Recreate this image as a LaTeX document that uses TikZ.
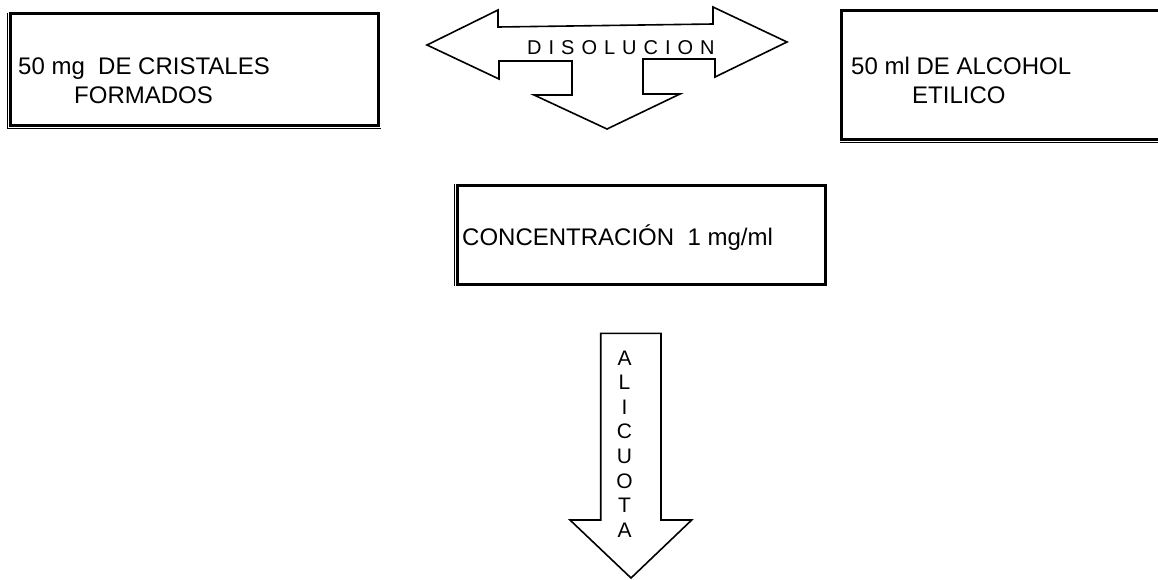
\documentclass[tikz,border=0pt]{standalone}
\usepackage{fontspec}
\setmainfont{Liberation Sans}
\newcommand\disfont{\fontsize{20}{24}\selectfont\spaceskip 7pt\relax}
\begin{document}
\begin{tikzpicture}[x=1pt,y=-1pt,
  thickln/.style={line width=3pt},
  thinln/.style={line width=1.1pt},
  arrowshape/.style={line width=1.6pt, line join=miter, fill=white},
  lbl/.style={font=\fontsize{24}{29}\selectfont, inner sep=0pt, anchor=base west},
  vlet/.style={font=\fontsize{21}{25}\selectfont, inner sep=0pt, anchor=base}]
\useasboundingbox (0,0) rectangle (1158,579);
\clip (0,0) rectangle (1158,579);

% left box
\draw[thickln] (10.3,13.3) rectangle (378.7,125.5);
\draw[thinln] (7.6,12.5) -- (7.6,128.2) -- (380.7,128.2);
\node[lbl] (cris1) at (18,74) {50 mg\ \ DE CRISTALES};
\node[lbl] (cris2) at (74,103) {FORMADOS};

% right box
\draw[thickln] (1180,10.8) -- (841,10.8) -- (841,139.7) -- (1180,139.7);
\draw[thinln] (839.5,142.8) -- (1180,142.8);
\node[lbl] (alc1) at (851,74) {50 ml DE ALCOHOL};
\node[lbl] (alc2) at (912,103) {ETILICO};

% middle box
\draw[thickln] (457.7,185.3) rectangle (825.7,284.3);
\draw[thinln] (454.7,184) -- (454.7,286);
\node[lbl] (conc) at (462,245) {CONCENTRACIÓN\ \ 1 mg/ml};

% DISOLUCION arrow
\draw[arrowshape] (427,45) -- (498,10) -- (498,27) -- (713,24) -- (713,7) -- (787,42)
  -- (715,77) -- (715,59) -- (643,59) -- (643,94) -- (680,94) -- (607,129)
  -- (534,95) -- (572,95) -- (572,61) -- (499,61) -- (499,79) -- cycle;
\node[inner sep=0pt, anchor=base west, font=\disfont] (dis) at (527,54) {D I S O L U C I O N};

% ALICUOTA arrow
\draw[arrowshape] (600.7,333.3) -- (661,333.3) -- (661,520) -- (691.7,520) -- (631,578)
  -- (570,520) -- (600.7,520) -- cycle;
\foreach \c [count=\i from 0] in {A,L,I,C,U,O,T,A}
  \node[vlet] (ali\i) at (624.5,{365+24.6*\i}) {\c};
\end{tikzpicture}
\end{document}
